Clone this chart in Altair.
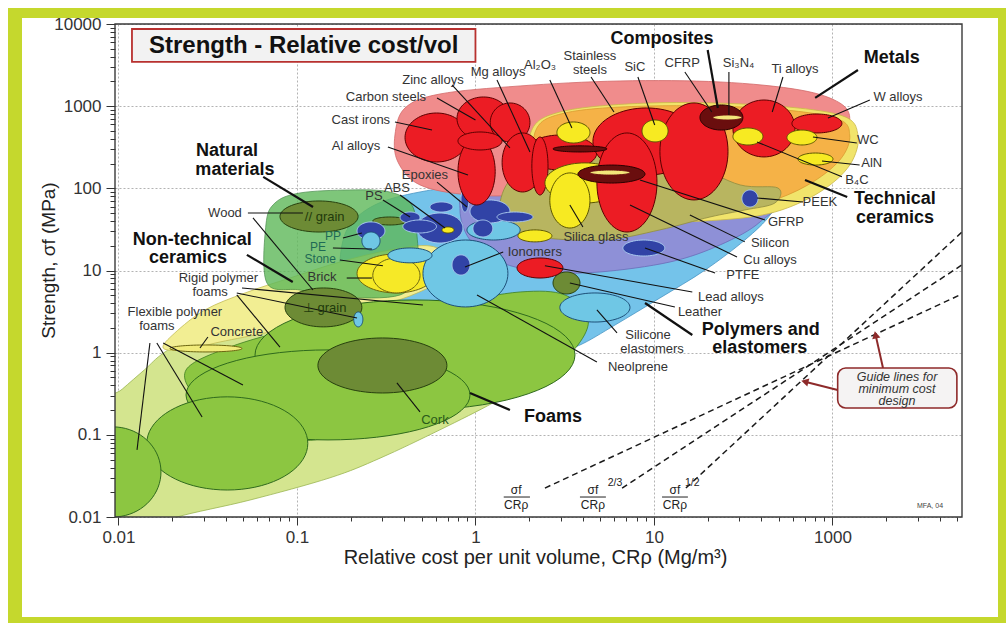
import json
import numpy as np
import pandas as pd
import altair as alt

FONT = "Liberation Sans"

# ---------------------------------------------------------------- axes
X_MAJOR = [0.01, 0.1, 1, 10, 100]
X_MAJOR_LABELS = ["0.01", "0.1", "1", "10", "1000"]
Y_MAJOR = [0.01, 0.1, 1, 10, 100, 1000, 10000]
Y_MAJOR_LABELS = ["0.01", "0.1", "1", "10", "100", "1000", "10000"]
COST_DOMAIN = [0.00956, 532]
STRENGTH_DOMAIN = [0.01, 10000]

# ---------------------------------------------------------------- family envelopes
# outline vertices: (relative cost per unit volume, strength in MPa)
ENV_FOAM_OUTER = [(0.0085, 0.24), (0.0105, 0.36), (0.0140, 0.62), (0.0180, 1.0), (0.0286, 1.79),
                  (0.0621, 3.6), (0.153, 6.3), (0.489, 10.7), (1.37, 12.7), (3.38, 7.7), (4.67, 3.8),
                  (4.21, 2.06), (2.79, 0.89), (1.71, 0.38), (1.25, 0.244), (0.632, 0.115), (0.292, 0.052),
                  (0.153, 0.030), (0.0546, 0.0161), (0.0213, 0.0100), (0.015, 0.007), (0.0085, 0.007),
                  (0.0075, 0.05)]
ENV_POLYMERS = [(0.174, 12.7), (0.193, 32.9), (0.273, 62.7), (0.489, 90.3), (1.06, 110), (2.97, 101),
                (10.8, 90.3), (49.5, 90.3), (44.7, 47.4), (32.3, 23.5), (19.3, 10.1), (10.8, 4.63),
                (6.05, 2.17), (3.85, 1.24), (2.79, 1.02), (1.78, 1.24), (0.932, 2.17), (0.489, 3.13),
                (0.256, 5.04), (0.186, 7.7)]
ENV_POLYMER_CORE = [(0.932, 90.3), (2.30, 110), (8.35, 95.5), (49.5, 87.8), (39.3, 39.0), (23.5, 20.5),
                    (12.3, 12.7), (4.98, 9.6), (2.45, 9.6), (1.37, 12.7), (0.932, 23.5), (0.819, 54.5)]
ENV_NONTECH = [(0.0178, 1.14), (0.0207, 1.74), (0.0305, 3.31), (0.0512, 5.33), (0.0914, 8.11),
               (0.174, 12.7), (0.332, 17.8), (0.556, 19.9), (0.701, 14.2), (0.632, 7.7), (0.430, 4.90),
               (0.256, 3.50), (0.135, 2.50), (0.0706, 1.79), (0.0371, 1.35), (0.0236, 1.08)]
ENV_NATURAL = [(0.0679, 7.05), (0.067, 35.8), (0.0753, 66.3), (0.104, 87.8), (0.198, 95.5), (0.330, 90.3),
               (0.440, 62.7), (0.470, 27.1), (0.470, 10.1), (0.378, 5.04), (0.174, 4.76), (0.104, 5.79)]
ENV_FOAMS = [(0.0239, 0.615), (0.0421, 1.17), (0.100, 2.0), (0.256, 2.96), (0.720, 4.02), (1.78, 5.48),
             (3.17, 5.04), (4.27, 2.64), (3.75, 1.24), (2.61, 0.65), (1.46, 0.37), (0.720, 0.27),
             (0.332, 0.224), (0.174, 0.108), (0.104, 0.0867), (0.0546, 0.152), (0.0286, 0.27)]
ENV_METALS = [(0.354, 446), (0.403, 951), (0.632, 1406), (1.78, 1762), (6.45, 2027), (23.5, 1970),
              (65.8, 1574), (110, 1094), (125, 679), (107, 388), (65.8, 221), (30.4, 134), (8.35, 95.5),
              (2.30, 83.0), (0.932, 83.0), (0.489, 110), (0.368, 209)]
ENV_CERAMICS_RIM = [(2.02, 446), (2.97, 849), (9.50, 1094), (39.3, 1035), (110, 781), (139, 446), (125, 192),
                    (85.1, 90.3), (47.6, 51.5), (23.5, 41.2), (8.35, 39.0), (3.38, 47.4), (2.15, 95.5)]
ENV_CERAMICS = [(2.15, 472), (3.17, 826), (9.50, 1005), (39.3, 951), (103, 719), (125, 446), (110, 221),
                (72.9, 110), (41.9, 66.3), (22.0, 51.5), (8.35, 47.4), (3.61, 57.7), (2.30, 110)]
ENV_COMPOSITES = [(1.37, 62.7), (1.66, 145), (2.97, 255), (6.45, 255), (15.9, 192), (30.4, 110),
                  (49.5, 101), (47.6, 66.3), (32.3, 54.5), (20.6, 44.8), (10.8, 31.2), (5.31, 23.5),
                  (2.45, 24.9), (1.56, 31.2)]

ENVELOPES_BACK = [("foam_outer", ENV_FOAM_OUTER), ("polymers", ENV_POLYMERS),
                  ("polymer_core", ENV_POLYMER_CORE), ("nontech", ENV_NONTECH)]
ENVELOPES_MID = [("natural", ENV_NATURAL)]
ENVELOPES_FRONT = [("foams", ENV_FOAMS), ("metals", ENV_METALS), ("ceramics_rim", ENV_CERAMICS_RIM),
                   ("ceramics", ENV_CERAMICS), ("composites", ENV_COMPOSITES)]

ENVELOPE_STYLE = {
    "foam_outer": ("#d4e58f", "#9bb552"),
    "polymers": ("#74c3ea", "#4a96c4"),
    "polymer_core": ("#8e90d7", "#6a6cb8"),
    "nontech": ("#f2ee93", "#c2bb55"),
    "natural": ("#5fb95a", "#2f7d32"),
    "foams": ("#8cc641", "#3d7d22"),
    "metals": ("#f08c8c", "#d26a6a"),
    "ceramics_rim": ("#f1e46b", "#c9b84a"),
    "ceramics": ("#f5b247", "#d99a30"),
    "composites": ("#b8b560", "#8f8c40"),
}

# ---------------------------------------------------------------- material bubbles
# (name, class, cost low, cost high, strength low, strength high), in drawing order
BUBBLES = [
    ("Rigid polymer foams", "foam", 0.0582, 3.61, 0.201, 4.38),
    ("Flexible polymer foams", "foam", 0.0239, 0.932, 0.0867, 1.08),
    ("Flexible polymer foams", "foam", 0.0144, 0.115, 0.0213, 0.29),
    ("Flexible polymer foams", "foam", 0.0050, 0.0173, 0.0100, 0.125),
    ("Cork", "natural", 0.131, 0.692, 0.323, 1.51),
    ("Wood // grain", "natural", 0.0803, 0.220, 29.4, 70.2),
    ("Wood ⊥ grain", "natural", 0.0857, 0.231, 2.06, 6.13),
    ("Wood product", "natural", 0.266, 0.413, 35.8, 44.8),
    ("Leather", "natural", 2.72, 3.85, 5.18, 9.6),
    ("Stone", "nontech", 0.217, 0.593, 5.33, 15.9),
    ("Brick", "nontech", 0.266, 0.489, 5.33, 14.2),
    ("Concrete", "concrete", 0.0194, 0.0492, 1.02, 1.24),
    ("Neoprene", "elastomer", 0.508, 1.52, 3.60, 23.5),
    ("Silicone elastomers", "elastomer", 2.97, 7.34, 2.36, 5.33),
    ("Elastomer", "elastomer", 0.323, 0.571, 12.4, 18.8),
    ("Elastomer", "elastomer", 0.208, 0.234, 2.06, 3.13),
    ("Elastomer", "elastomer", 0.896, 1.78, 23.5, 41.2),
    ("PS", "polymer", 0.470, 0.851, 21.6, 50.1),
    ("ABS", "polymer", 0.378, 0.489, 37.9, 51.5),
    ("Polymer", "polymer", 0.556, 0.748, 51.5, 68.2),
    ("Polymer", "polymer", 0.392, 0.605, 28.6, 41.2),
    ("Polymer", "polymer", 0.932, 1.56, 37.9, 72.2),
    ("Polymer", "polymer", 1.32, 2.10, 39.0, 51.5),
    ("Polymer", "polymer", 0.968, 1.25, 25.6, 41.2),
    ("Epoxies", "polymer", 0.829, 0.919, 51.5, 101),
    ("PP", "polymer", 0.217, 0.311, 23.5, 39.0),
    ("PE", "elastomer", 0.231, 0.292, 17.8, 29.4),
    ("Ionomers", "polymer", 0.739, 0.932, 8.8, 15.5),
    ("PTFE", "polymer", 6.70, 11.5, 15.0, 23.5),
    ("PEEK", "polymer", 31.1, 38.3, 59.3, 95.5),
    ("Glass", "glass", 0.649, 0.758, 28.6, 33.9),
    ("Glass", "glass", 1.73, 2.68, 22.3, 31.2),
    ("Cast irons", "metal", 0.403, 0.908, 209, 826),
    ("Carbon steels", "metal", 0.788, 1.56, 388, 1294),
    ("Zinc alloys", "metal", 1.21, 2.02, 367, 1094),
    ("Al alloys", "metal", 0.798, 1.29, 62.7, 410),
    ("Al alloys", "metal", 0.798, 1.41, 293, 485),
    ("Metal", "metal", 1.89, 4.79, 167, 446),
    ("Mg alloys", "metal", 1.41, 2.39, 90.3, 472),
    ("Mg alloys", "metal", 2.07, 2.55, 83, 421),
    ("Glass", "glass", 2.45, 6.88, 66.3, 204),
    ("Silica glass", "glass", 2.61, 4.38, 32.9, 154),
    ("Stainless steels", "metal", 4.55, 18.1, 145, 951),
    ("Cu alloys", "metal", 4.79, 10.4, 29.4, 472),
    ("Ni alloys", "metal", 10.8, 26.0, 72.2, 1094),
    ("Ti alloys", "metal", 27.7, 61.7, 241, 1189),
    ("W alloys", "metal", 59.3, 113, 472, 803),
    ("Lead alloys", "metal", 1.71, 3.09, 8.1, 14.2),
    ("Al2O3", "ceramic", 2.86, 4.38, 356, 642),
    ("SiC", "ceramic", 8.57, 12.0, 367, 679),
    ("B4C", "ceramic", 27.7, 40.8, 337, 542),
    ("WC", "ceramic", 55.6, 81.9, 337, 512),
    ("AlN", "ceramic", 64.1, 100.7, 192, 269),
    ("Composite", "composite", 2.72, 5.45, 277, 329),
    ("GFRP", "composite", 3.75, 8.91, 116, 192),
    ("GFRP", "stripe", 4.38, 7.34, 145, 167),
    ("CFRP", "composite", 18.1, 31.5, 512, 1035),
    ("Si3N4", "stripe", 21.4, 31.1, 679, 781),
]

BUBBLE_STYLE = {
    "foam": ("#8cc641", "#2f6a1d"),
    "natural": ("#6d8b35", "#27400e"),
    "nontech": ("#f6e927", "#6b6410"),
    "concrete": ("#f1eb7a", "#6b6410"),
    "elastomer": ("#6fc7e5", "#1d4f78"),
    "polymer": ("#3143a6", "#a9c9ee"),
    "metal": ("#ec1c24", "#5c0000"),
    "glass": ("#f7ea22", "#5c5600"),
    "ceramic": ("#f7ea22", "#5c5600"),
    "composite": ("#6a0e0e", "#2a0000"),
    "stripe": ("#f3e57a", "#6a0e0e"),
}

# ---------------------------------------------------------------- labels
# (text, cost, strength)
MATERIAL_LABELS = [
    ("Zinc alloys", 0.578, 2084), ("Carbon steels", 0.315, 1294), ("Cast irons", 0.228, 679),
    ("Al alloys", 0.214, 328), ("Mg alloys", 1.34, 2607), ("Al₂O₃", 2.30, 3171),
    ("Stainless", 4.38, 4083), ("steels", 4.38, 2757), ("SiC", 7.82, 2999), ("CFRP", 14.4, 3355),
    ("Si₃N₄", 29.8, 3355), ("Ti alloys", 61.7, 2836), ("W alloys", 233, 1294), ("WC", 158, 388),
    ("AlN", 166, 204), ("B₄C", 137, 126), ("PEEK", 85.1, 68.2), ("GFRP", 54.9, 39.0),
    ("Silicon", 44.7, 21.6), ("Cu alloys", 44.7, 13.4), ("PTFE", 31.5, 8.8), ("Lead alloys", 27.0, 4.76),
    ("Leather", 18.1, 3.13), ("Silicone", 9.27, 1.64), ("elastomers", 9.76, 1.11),
    ("Neolprene", 8.13, 0.67), ("Ionomers", 2.15, 16.8), ("Silica glass", 4.73, 25.6),
    ("Epoxies", 0.521, 145), ("ABS", 0.363, 101), ("PS", 0.270, 80.7),
    ("Brick", 0.138, 8.3), ("Wood", 0.0395, 50.1),
    ("// grain", 0.143, 44.8), ("⊥ grain", 0.143, 3.50), ("Rigid polymer", 0.0363, 8.11),
    ("foams", 0.0326, 5.48), ("Flexible polymer", 0.0207, 3.13), ("foams", 0.0164, 2.11),
    ("Concrete", 0.0460, 1.79), ("Cork", 0.593, 0.152),
]
SMALL_LABELS = [("PP", 0.159, 26.3), ("PE", 0.131, 19.3), ("Stone", 0.135, 13.8)]
LABEL_COLORS = {"PP": "#1e6a55", "PE": "#1e6a55", "Stone": "#1e6a55",
                "// grain": "#1f3a0c", "⊥ grain": "#1f3a0c", "Cork": "#2a5a1a"}

FAMILY_LABELS = [
    ("Composites", 11.1, 6577), ("Metals", 215, 3858), ("Technical", 224, 74.2), ("ceramics", 224, 43.6),
    ("Polymers and", 39.7, 1.89), ("elastomers", 39.2, 1.14), ("Natural", 0.0405, 285),
    ("materials", 0.0449, 167), ("Non-technical", 0.0259, 23.5), ("ceramics", 0.0245, 14.2),
    ("Foams", 2.72, 0.165),
]

# leader lines: (cost from, strength from, cost to, strength to)
LEADERS = [
    (0.739, 1811, 1.56, 310), (0.609, 1259, 1.0, 679), (0.354, 642, 0.571, 512), (0.323, 319, 0.908, 145),
    (1.32, 2084, 2.02, 277), (2.61, 2084, 3.47, 542), (4.44, 2266, 5.97, 849), (8.13, 2266, 10.1, 590),
    (14.9, 2607, 21.1, 849), (26.3, 2607, 26.3, 781), (52.8, 2266, 46.0, 849), (162, 1189, 94.4, 718),
    (137, 356, 77.8, 421), (142, 192, 87.4, 215), (113, 138, 37.8, 367), (68.4, 68.2, 37.8, 76.3),
    (41.9, 41.2, 8.35, 126), (32.3, 22.3, 15.9, 47.4), (29.2, 14.6, 7.34, 62.7), (22.0, 9.33, 8.91, 18.8),
    (16.4, 5.48, 2.45, 11.4), (13.1, 3.60, 3.38, 7.05), (6.21, 1.74, 4.79, 3.31), (4.79, 0.77, 1.02, 5.04),
    (1.43, 16.8, 0.874, 11.0), (4.0, 33.9, 3.38, 62.7), (0.609, 119, 0.896, 59.3), (0.378, 83.0, 0.675, 32.9),
    (0.303, 72.2, 0.430, 44.8), (0.181, 24.9, 0.231, 28.6), (0.159, 18.8, 0.263, 18.3),
    (0.174, 13.4, 0.303, 11.4), (0.190, 8.1, 0.263, 8.1), (0.0531, 50.1, 0.108, 50.1),
    (0.0567, 43.6, 0.123, 5.79), (0.0492, 6.13, 0.508, 3.80), (0.0460, 5.33, 0.217, 2.64),
    (0.0460, 5.04, 0.0803, 1.17), (0.0150, 1.31, 0.0127, 0.0655), (0.0164, 1.31, 0.0294, 0.165),
    (0.0178, 1.31, 0.0498, 0.404), (0.0317, 1.55, 0.0286, 1.14), (0.489, 0.190, 0.363, 0.428),
]
FAMILY_LEADERS = [
    (20.0, 4831, 22.8, 951), (139, 2757, 80.0, 1259), (121, 78.5, 70.2, 126), (16.4, 1.64, 8.91, 4.02),
    (0.0647, 138, 0.123, 59.3), (0.0524, 15.5, 0.0947, 7.24), (1.56, 0.201, 0.932, 0.323),
]

# minimum-cost guide lines: sigma/C, sigma^(2/3)/C, sigma^(1/2)/C
GUIDE_LINES = [(2.45, 0.0225, 532, 5.18), (6.63, 0.0225, 532, 11.7), (15.1, 0.0225, 532, 29.4)]
FRACTION_CENTERS = [1.69, 4.55, 13.1]
FRACTION_BARS = [(1.44, 2.02), (3.85, 5.38), (11.1, 15.5)]
FRACTION_EXPONENTS = [("2/3", 6.05), ("1/2", 16.4)]
FRAC_Y_NUM, FRAC_Y_BAR, FRAC_Y_DEN, FRAC_Y_EXP = 0.0215, 0.0175, 0.0139, 0.0262

GUIDE_NOTE_BOX = (107, 498, 0.212, 0.651)
GUIDE_NOTE_LINES = [("Guide lines for", 230, 0.505), ("minimum cost", 230, 0.361), ("design", 230, 0.258)]
GUIDE_ARROWS = [(107, 0.351, 71.1, 0.440, 284), (192, 0.651, 175, 1.60, 348)]

TITLE_TEXT = "Strength - Relative cost/vol"
TITLE_BOX = (0.0119, 1.0, 3451, 8690)
TITLE_POS = (0.109, 5460)

# ---------------------------------------------------------------- scales and axes
x_minor = [k * 10.0 ** e for e in range(-3, 3) for k in range(2, 10)]
x_values = sorted(set(X_MAJOR + [v for v in x_minor if COST_DOMAIN[0] <= v <= COST_DOMAIN[1]]))
y_minor = [k * 10.0 ** e for e in range(-2, 4) for k in range(2, 10)]
y_values = sorted(set(Y_MAJOR + y_minor))

def major_test(majors):
    return f"indexof({json.dumps(majors)}, datum.value) >= 0"

def label_expr(majors, labels):
    m = json.dumps(majors)
    return f"indexof({m}, datum.value) >= 0 ? {json.dumps(labels)}[indexof({m}, datum.value)] : ''"

common_axis = dict(
    grid=True, gridColor="#b3b3b3", gridDash=[2, 2], gridWidth=1, domain=False,
    tickColor="#333333", tickWidth=1, labelFont=FONT, labelFontSize=17, labelColor="#333333",
    labelOverlap=False, labelFlush=False, titleFont=FONT, titleFontWeight="normal",
    titleColor="#222222",
)

X_AXIS = alt.Axis(
    values=x_values, labelExpr=label_expr(X_MAJOR, X_MAJOR_LABELS),
    gridOpacity={"condition": {"test": major_test(X_MAJOR), "value": 1}, "value": 0},
    tickSize={"condition": {"test": major_test(X_MAJOR), "value": 8}, "value": 4},
    labelPadding=4, title="Relative cost per unit volume, CRρ  (Mg/m³)", titleFontSize=20,
    titleX=420, titleY=40, titleBaseline="middle", **common_axis,
)
Y_AXIS = alt.Axis(
    values=y_values, labelExpr=label_expr(Y_MAJOR, Y_MAJOR_LABELS),
    gridOpacity={"condition": {"test": major_test(Y_MAJOR), "value": 1}, "value": 0},
    tickSize={"condition": {"test": major_test(Y_MAJOR), "value": 9}, "value": 5},
    labelPadding=5, title="Strength, σf (MPa)", titleFontSize=19, titleX=-57, titleY=236,
    **common_axis,
)
X_SCALE = alt.Scale(type="log", domain=COST_DOMAIN, nice=False)
Y_SCALE = alt.Scale(type="log", domain=STRENGTH_DOMAIN, nice=False)

def xe():
    return alt.X("cost:Q", scale=X_SCALE, axis=X_AXIS)

def ye():
    return alt.Y("strength:Q", scale=Y_SCALE, axis=Y_AXIS)

# ---------------------------------------------------------------- geometry helpers
def ellipse_outline(c_lo, c_hi, s_lo, s_hi, n=72):
    """Ellipse inscribed (in log-log space) in the property-range box."""
    lx0, lx1 = np.log10([c_lo, c_hi])
    ly0, ly1 = np.log10([s_lo, s_hi])
    t = np.linspace(0, 2 * np.pi, n, endpoint=False)
    cx, rx = (lx0 + lx1) / 2, (lx1 - lx0) / 2
    cy, ry = (ly0 + ly1) / 2, (ly1 - ly0) / 2
    return 10 ** (cx + rx * np.cos(t)), 10 ** (cy + ry * np.sin(t))

def envelope_frame(groups):
    rows = []
    for i, (key, pts) in enumerate(groups):
        fill, stroke = ENVELOPE_STYLE[key]
        for j, (c, s) in enumerate(pts):
            rows.append(dict(shape=f"e{i:02d}_{key}", ord=j, cost=c, strength=s, fill=fill, stroke=stroke))
    return pd.DataFrame(rows)

def bubble_frame():
    rows = []
    for i, (name, cls, c0, c1, s0, s1) in enumerate(BUBBLES):
        fill, stroke = BUBBLE_STYLE[cls]
        cs, ss = ellipse_outline(c0, c1, s0, s1)
        for j, (c, s) in enumerate(zip(cs, ss)):
            rows.append(dict(shape=f"b{i:03d}", name=name, ord=j, cost=c, strength=s, fill=fill, stroke=stroke))
    return pd.DataFrame(rows)

def shapes_layer(df, interpolate, width, opacity=1.0):
    return alt.Chart(df).mark_line(interpolate=interpolate, strokeWidth=width, clip=True,
                                   opacity=opacity).encode(
        x=xe(), y=ye(), order="ord:Q", detail="shape:N",
        fill=alt.Fill("fill:N", scale=None), stroke=alt.Stroke("stroke:N", scale=None),
    )

def segments(rows):
    return pd.DataFrame(rows, columns=["cost", "strength", "cost2", "strength2"])

def rule_layer(df, width, color="#111111", dash=None):
    kw = dict(strokeWidth=width, color=color, clip=True)
    if dash:
        kw["strokeDash"] = dash
    return alt.Chart(df).mark_rule(**kw).encode(
        x=xe(), y=ye(), x2="cost2:Q", y2="strength2:Q")

def text_layer(df, size, weight="normal", style="normal"):
    return alt.Chart(df).mark_text(font=FONT, fontSize=size, fontWeight=weight, fontStyle=style,
                                   align="center", baseline="middle").encode(
        x=xe(), y=ye(), text="text:N", color=alt.Color("color:N", scale=None))

def label_frame(rows, default_color):
    return pd.DataFrame([(t, c, s, LABEL_COLORS.get(t, default_color)) for t, c, s in rows],
                        columns=["text", "cost", "strength", "color"])

# ---------------------------------------------------------------- layers
FRAME = "#c5d82d"
one = pd.DataFrame({"k": [0]})
frame_bands = [
    alt.Chart(one).mark_rect(color=FRAME).encode(
        x=alt.value(x0), x2=alt.value(x1), y=alt.value(y0), y2=alt.value(y1))
    for (x0, x1, y0, y1) in [(-107, 891, -16, -6), (-107, -93, -16, 599),
                             (883, 891, -16, 599), (-107, 891, 593, 599)]
]

env_back = shapes_layer(envelope_frame(ENVELOPES_BACK), "cardinal-closed", 0.8)
env_mid = shapes_layer(envelope_frame(ENVELOPES_MID), "cardinal-closed", 0.8, opacity=0.8)
env_front = shapes_layer(envelope_frame(ENVELOPES_FRONT), "cardinal-closed", 0.8)
bubbles = shapes_layer(bubble_frame(), "linear-closed", 1.0)

guides = rule_layer(segments(GUIDE_LINES), 1.5, "#1a1a1a", dash=[6, 4])
leaders = rule_layer(segments(LEADERS), 1.1)
family_leaders = rule_layer(segments(FAMILY_LEADERS), 2.2)

arrow_df = pd.DataFrame([(a, b, c, d) for a, b, c, d, _ in GUIDE_ARROWS],
                        columns=["cost", "strength", "cost2", "strength2"])
arrow_lines = rule_layer(arrow_df, 2, "#8e2a2a")
head_df = pd.DataFrame([(c, d, ang) for _, _, c, d, ang in GUIDE_ARROWS], columns=["cost", "strength", "angle"])
arrow_heads = alt.Chart(head_df).mark_point(shape="triangle", filled=True, size=70, color="#8e2a2a",
                                            opacity=1).encode(
    x=xe(), y=ye(), angle=alt.Angle("angle:Q", scale=None))

box_df = pd.DataFrame([TITLE_BOX], columns=["cost", "cost2", "strength", "strength2"])
title_box = alt.Chart(box_df).mark_rect(fill="#f2f2f2", stroke="#b8312f", strokeWidth=1.8).encode(
    x=xe(), x2="cost2:Q", y=ye(), y2="strength2:Q")
note_df = pd.DataFrame([GUIDE_NOTE_BOX], columns=["cost", "cost2", "strength", "strength2"])
note_box = alt.Chart(note_df).mark_rect(fill="#f5f3f3", stroke="#8e2a2a", strokeWidth=1.6,
                                        cornerRadius=8).encode(
    x=xe(), x2="cost2:Q", y=ye(), y2="strength2:Q")

mat_df = label_frame(MATERIAL_LABELS, "#333333")
small_df = label_frame(SMALL_LABELS, "#333333")
fam_df = label_frame(FAMILY_LABELS, "#111111")
title_df = label_frame([(TITLE_TEXT, TITLE_POS[0], TITLE_POS[1])], "#111111")
note_df_t = label_frame(GUIDE_NOTE_LINES, "#333333")

frac_rows = []
for cx in FRACTION_CENTERS:
    frac_rows.append(("σf", cx, FRAC_Y_NUM))
    frac_rows.append(("CRρ", cx, FRAC_Y_DEN))
frac_df = label_frame(frac_rows, "#222222")
exp_df = label_frame([(t, c, FRAC_Y_EXP) for t, c in FRACTION_EXPONENTS], "#222222")
bar_df = pd.DataFrame([(a, FRAC_Y_BAR, b, FRAC_Y_BAR) for a, b in FRACTION_BARS],
                      columns=["cost", "strength", "cost2", "strength2"])
frac_bars = rule_layer(bar_df, 1, "#222222")
mfa_df = label_frame([("MFA, 04", 352, 0.0137)], "#444444")

plot_frame = alt.Chart(pd.DataFrame([dict(cost=COST_DOMAIN[0], cost2=COST_DOMAIN[1],
                                          strength=STRENGTH_DOMAIN[0], strength2=STRENGTH_DOMAIN[1])])
                       ).mark_rect(filled=False, color="#3a3a3a", strokeWidth=1.4).encode(
    x=xe(), x2="cost2:Q", y=ye(), y2="strength2:Q")

chart = alt.layer(
    *frame_bands,
    env_back, env_mid, env_front, bubbles,
    guides, leaders, family_leaders,
    arrow_lines, arrow_heads,
    title_box, note_box,
    text_layer(mat_df, 13),
    text_layer(small_df, 12),
    text_layer(fam_df, 18, weight="bold"),
    text_layer(title_df, 24, weight="bold"),
    text_layer(note_df_t, 12.5, style="italic"),
    text_layer(frac_df, 12), text_layer(exp_df, 10.5), frac_bars,
    text_layer(mfa_df, 7),
    plot_frame,
).properties(
    width=847, height=493,
    padding={"left": 115, "top": 24, "right": 46, "bottom": 106},
    autosize=alt.AutoSizeParams(type="none"),
    background="white",
).configure_view(stroke=None, fill="white")

chart.save("out.html", embed_options={"renderer": "svg", "actions": False})
